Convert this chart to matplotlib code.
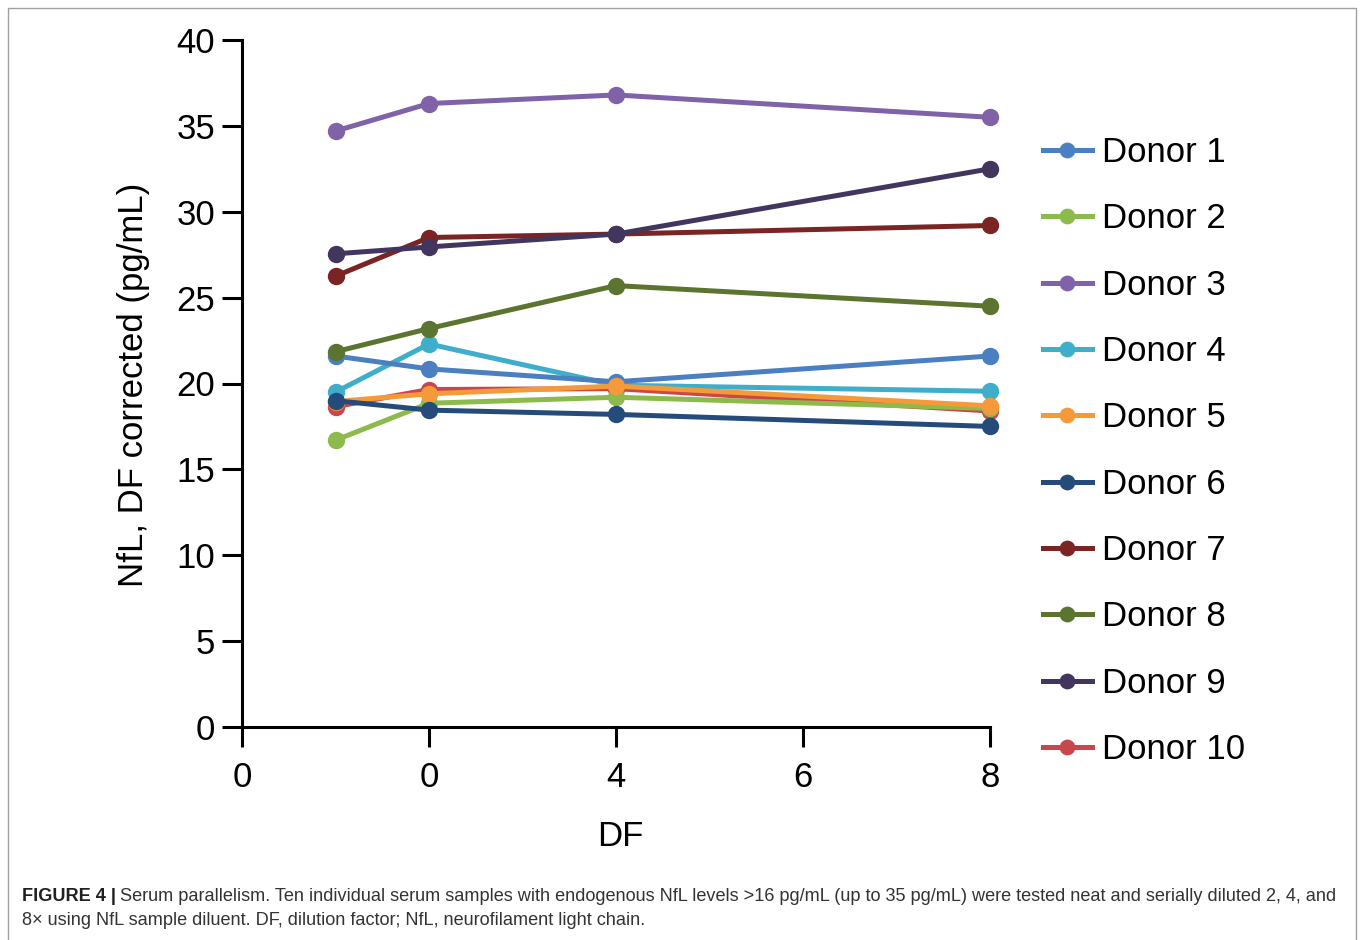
import matplotlib
matplotlib.use("Agg")
import matplotlib.pyplot as plt
from matplotlib.patches import Rectangle

plt.rcParams['font.family'] = ['Liberation Sans', 'DejaVu Sans']

# dilution factor positions (axis units) and the odd tick labels of the original
df_x = [1, 2, 4, 8]
tick_pos = [0, 2, 4, 6, 8]
tick_labels = ['0', '0', '4', '6', '8']

donors = ['Donor 1', 'Donor 2', 'Donor 3', 'Donor 4', 'Donor 5',
          'Donor 6', 'Donor 7', 'Donor 8', 'Donor 9', 'Donor 10']

donor1 = [21.6, 20.85, 20.1, 21.6]
donor2 = [16.7, 18.85, 19.2, 18.55]
donor3 = [34.7, 36.3, 36.8, 35.5]
donor4 = [19.5, 22.3, 19.9, 19.55]
donor5 = [18.95, 19.4, 19.85, 18.7]
donor6 = [19.0, 18.45, 18.2, 17.5]
donor7 = [26.25, 28.5, 28.7, 29.2]
donor8 = [21.85, 23.2, 25.7, 24.5]
donor9 = [27.55, 27.95, 28.7, 32.5]
donor10 = [18.65, 19.65, 19.7, 18.4]
values = [donor1, donor2, donor3, donor4, donor5,
          donor6, donor7, donor8, donor9, donor10]

colors = ['#4a7fc1', '#8dba4c', '#7f62a8', '#3faecb', '#f59a3a',
          '#244b7a', '#7b2424', '#5b7430', '#42365f', '#c9474a']
# stacking as seen in the figure (higher = drawn later)
zorders = [5, 2, 4, 4, 8, 9, 5, 6, 6, 1]

fig = plt.figure(figsize=(13.62, 9.40), dpi=100)
ax = fig.add_axes([242/1362, 1-727/940, 748/1362, 687/940])

handles = []
for name, vals, c, z in zip(donors, values, colors, zorders):
    h, = ax.plot(df_x, vals, '-o', color=c, lw=3.6, ms=11.5, label=name,
                 clip_on=False, zorder=3+z)
    handles.append(h)

ax.set_xlim(0, 8)
ax.set_ylim(0, 40)
ax.set_xticks(tick_pos)
ax.set_xticklabels(tick_labels)
ax.set_yticks(range(0, 41, 5))
ax.spines['top'].set_visible(False)
ax.spines['right'].set_visible(False)
for s in ['left', 'bottom']:
    ax.spines[s].set_linewidth(2.2)
ax.tick_params(axis='both', width=2.2, length=14.4, labelsize=25, color='black')
ax.tick_params(axis='x', pad=10)
ax.tick_params(axis='y', pad=5)

ax.set_ylabel('NfL, DF corrected (pg/mL)', fontsize=25)
ax.yaxis.set_label_coords((150-242)/748, (727-385)/687)
ax.set_xlabel('DF', fontsize=25)
ax.xaxis.set_label_coords((620-242)/748, (727-820)/687)

leg = fig.legend(handles=handles, loc='upper left',
                 bbox_to_anchor=(1043/1362, 1-136/940), frameon=False,
                 fontsize=25, labelspacing=0.96, handlelength=1.41,
                 handletextpad=0.29, borderpad=0, borderaxespad=0,
                 markerscale=0.9)

# frame around the figure panel
fig.patches.append(Rectangle((8/1362, -0.01), 1348/1362, 1-8/940+0.01,
                             transform=fig.transFigure, fill=False,
                             edgecolor='#a0a0a0', lw=1))

# caption
cap_size = 13.05
t1 = fig.text(22/1362, 1-901/940, 'FIGURE 4 |', fontsize=cap_size,
              fontweight='bold', color='#231f20', va='baseline')
fig.canvas.draw()
bb = t1.get_window_extent(fig.canvas.get_renderer())
fig.text(bb.x1/1362 + 4/1362, 1-901/940,
         'Serum parallelism. Ten individual serum samples with endogenous NfL '
         'levels >16 pg/mL (up to 35 pg/mL) were tested neat and serially '
         'diluted 2, 4, and',
         fontsize=cap_size, color='#333333', va='baseline')
fig.text(22/1362, 1-925/940,
         '8\u00d7 using NfL sample diluent. DF, dilution factor; NfL, '
         'neurofilament light chain.',
         fontsize=cap_size, color='#333333', va='baseline')

fig.savefig('out.png', dpi=100)
